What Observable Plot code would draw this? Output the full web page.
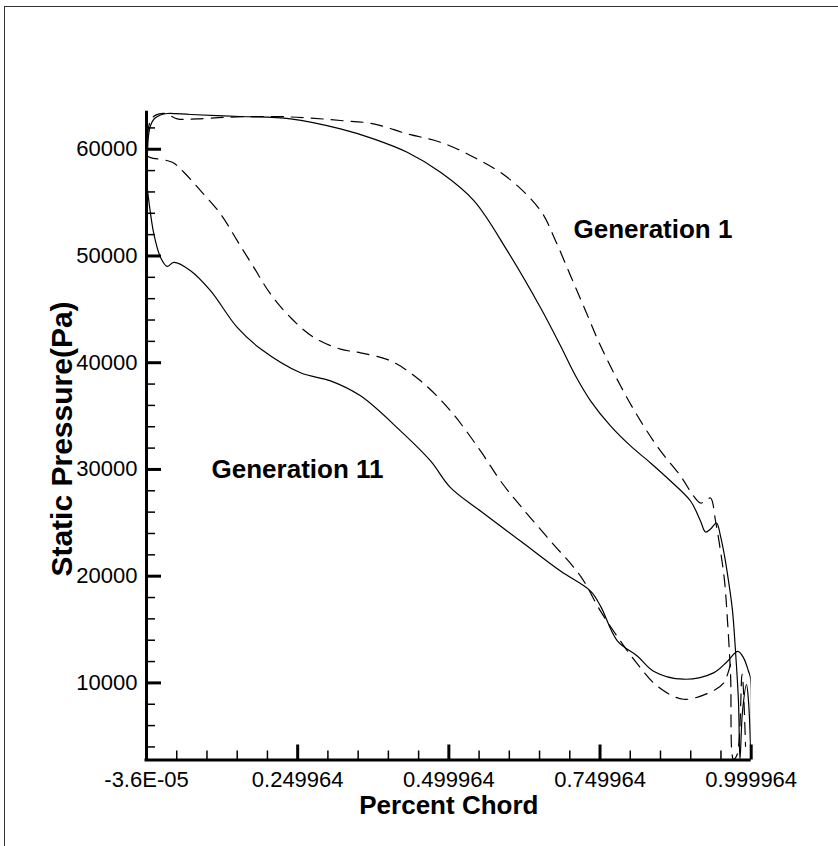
<!DOCTYPE html>
<html><head><meta charset="utf-8">
<script src="https://cdn.jsdelivr.net/npm/d3@7"></script>
<script src="https://cdn.jsdelivr.net/npm/@observablehq/plot@0.6"></script>
<style>
html,body{margin:0;padding:0;background:#fff;}
#wrap{position:relative;width:838px;height:846px;overflow:hidden;background:#fff;}
#frame{position:absolute;left:4px;top:6px;width:2000px;height:2000px;border:1.5px solid #333;box-sizing:border-box;pointer-events:none;}
#chart{position:absolute;left:0;top:0;}
</style></head><body>
<div id="wrap"><div id="chart"></div><div id="frame"></div></div>
<script>
// Generation 11 (solid)
const gen11UpperX = [0, 0.0017, 0.0033, 0.0066, 0.0132, 0.0232, 0.0347, 0.0728, 0.1554, 0.2381, 0.3208, 0.3754, 0.4311, 0.4862, 0.5413, 0.5965, 0.6516, 0.6846, 0.7094, 0.7343, 0.7673, 0.8004, 0.8335, 0.8666, 0.8996, 0.9161, 0.9244, 0.9327, 0.9426, 0.9492, 0.9559, 0.9625, 0.9691, 0.974, 0.9789, 0.9814, 0.9856, 0.9922, 0.9955, 0.9988];
const gen11UpperY = [57064, 59878, 61285, 62223, 62880, 63208, 63349, 63255, 63068, 62852, 61914, 60976, 59719, 57842, 55188, 50497, 45150, 41585, 38771, 36426, 34081, 32205, 30610, 28920, 27045, 25169, 24137, 24418, 24981, 23762, 21886, 19540, 16726, 12974, 8282, 2841, 7344, 9849, 8282, 4061];
const gen11LowerX = [0, 0.0017, 0.0121, 0.0232, 0.0342, 0.0451, 0.0728, 0.1058, 0.15, 0.1885, 0.2547, 0.3043, 0.3539, 0.42, 0.4697, 0.5027, 0.5523, 0.6185, 0.6846, 0.7343, 0.7508, 0.7789, 0.812, 0.8384, 0.888, 0.9377, 0.9608, 0.9778, 0.9873, 0.9955, 0.9988, 0.9995];
const gen11LowerY = [57064, 56126, 52064, 49868, 49024, 49399, 48621, 46745, 43302, 41304, 39053, 38302, 36895, 33612, 30797, 28300, 26107, 23293, 20478, 18602, 17195, 13912, 12505, 11097, 10346, 10937, 12035, 12950, 12350, 11097, 10440, 3873];
// Generation 1 (dashed)
const gen1UpperX = [0, 0.0017, 0.0066, 0.0152, 0.0314, 0.0508, 0.0838, 0.1335, 0.21, 0.2658, 0.3208, 0.3754, 0.4311, 0.4862, 0.5413, 0.5965, 0.6516, 0.6764, 0.7012, 0.726, 0.7508, 0.7839, 0.8169, 0.85, 0.8831, 0.9046, 0.9161, 0.9244, 0.9327, 0.941, 0.9492, 0.9559, 0.9608, 0.9658, 0.9707, 0.9768, 0.9849, 0.9906];
const gen1UpperY = [59409, 61285, 62692, 63200, 63349, 62852, 62852, 63000, 63068, 62945, 62692, 62383, 61445, 60657, 59250, 57373, 54250, 51435, 48152, 44868, 41585, 37833, 34550, 31735, 29390, 27514, 26857, 27045, 27326, 25169, 22355, 19540, 15788, 10815, 2841, 3310, 10815, 4061];
const gen1LowerX = [0, 0.0066, 0.0425, 0.0617, 0.0893, 0.1224, 0.15, 0.1774, 0.2051, 0.2381, 0.2767, 0.3208, 0.3539, 0.4035, 0.4531, 0.5027, 0.5523, 0.5854, 0.6185, 0.6681, 0.7177, 0.7508, 0.7839, 0.812, 0.845, 0.888, 0.9355, 0.9542, 0.9658];
const gen1LowerY = [59409, 59221, 58780, 57842, 56126, 53940, 51435, 48930, 46435, 44240, 42364, 41276, 40929, 40178, 38302, 35488, 31735, 28920, 26576, 23293, 20009, 16726, 13912, 11754, 9689, 8470, 9220, 9971, 11754];

const xDomain = [-0.000036, 0.999964];
const yDomain = [2777, 63565];
const xMajorTicks = [-0.000036, 0.249964, 0.499964, 0.749964, 0.999964];
const xTickLabels = ["-3.6E-05", "0.249964", "0.499964", "0.749964", "0.999964"];
const xMinorTicks = [0.049964, 0.099964, 0.149964, 0.199964, 0.299964, 0.349964, 0.399964, 0.449964, 0.549964, 0.599964, 0.649964, 0.699964, 0.799964, 0.849964, 0.899964, 0.949964];
const yMajorTicks = [10000, 20000, 30000, 40000, 50000, 60000];
const yMinorTicks = [4000, 6000, 8000, 12000, 14000, 16000, 18000, 22000, 24000, 26000, 28000, 32000, 34000, 36000, 38000, 42000, 44000, 46000, 48000, 52000, 54000, 56000, 58000, 62000];

const labels = [
  {x: 0.7061, y: 52464, text: "Generation 1"},
  {x: 0.1075, y: 29952, text: "Generation 11"}
];

function rows(xs, ys, name) { return xs.map((x, i) => ({x, y: ys[i], curve: name})); }
const solidRows = [...rows(gen11UpperX, gen11UpperY, "g11u"), ...rows(gen11LowerX, gen11LowerY, "g11l")];
const dashedRows = [...rows(gen1UpperX, gen1UpperY, "g1u"), ...rows(gen1LowerX, gen1LowerY, "g1l")];

const W = 838, H = 846;
const mL = 146, mR = 87.3, mT = 110.7, mB = 86.5;
const pxX = (xDomain[1] - xDomain[0]) / (W - mL - mR);
const pxY = (yDomain[1] - yDomain[0]) / (H - mT - mB);
const majorLen = 15, minorLen = 9;

const font = "'Liberation Sans', Arial, Helvetica, sans-serif";

const chart = Plot.plot({
  width: W, height: H,
  marginLeft: mL, marginRight: mR, marginTop: mT, marginBottom: mB,
  x: {domain: xDomain, axis: null},
  y: {domain: yDomain, axis: null},
  style: {fontFamily: font, background: "transparent", color: "black"},
  marks: [
    Plot.line(dashedRows, {x: "x", y: "y", z: "curve", stroke: "black", strokeWidth: 1.2, strokeDasharray: "12,8", curve: "catmull-rom", clip: true}),
    Plot.line(solidRows, {x: "x", y: "y", z: "curve", stroke: "black", strokeWidth: 1.2, curve: "catmull-rom", clip: true}),
    // inward ticks
    Plot.ruleX(xMinorTicks, {x: d => d, y1: yDomain[0], y2: yDomain[0] + minorLen * pxY, stroke: "black", strokeWidth: 1.5}),
    Plot.ruleX(xMajorTicks, {x: d => d, y1: yDomain[0], y2: yDomain[0] + majorLen * pxY, stroke: "black", strokeWidth: 3}),
    Plot.ruleY(yMinorTicks, {y: d => d, x1: xDomain[0], x2: xDomain[0] + minorLen * pxX, stroke: "black", strokeWidth: 1.5}),
    Plot.ruleY(yMajorTicks, {y: d => d, x1: xDomain[0], x2: xDomain[0] + majorLen * pxX, stroke: "black", strokeWidth: 3}),
    // axis lines
    Plot.ruleX([xDomain[0]], {stroke: "black", strokeWidth: 3}),
    Plot.ruleY([yDomain[0]], {stroke: "black", strokeWidth: 3, x1: xDomain[0] - 1.5 * pxX, x2: xDomain[1]}),
    // tick labels
    Plot.text(xMajorTicks, {x: d => d, text: (d, i) => xTickLabels[i], frameAnchor: "bottom", textAnchor: "middle", lineAnchor: "top", dy: 11, fontSize: 22, fill: "black"}),
    Plot.text(yMajorTicks, {y: d => d, text: d => String(d), frameAnchor: "left", textAnchor: "end", dx: -9, fontSize: 22, fill: "black"}),
    // axis titles
    Plot.text(["Percent Chord"], {text: d => d, frameAnchor: "bottom", textAnchor: "middle", dy: 46, lineAnchor: "middle", fontSize: 26, fontWeight: "bold", fill: "black"}),
    Plot.text(["Static Pressure(Pa)"], {text: d => d, frameAnchor: "left", textAnchor: "middle", dx: -84.3, dy: 3.4, rotate: -90, lineAnchor: "middle", fontSize: 30, fontWeight: "bold", fill: "black"}),
    // annotations
    Plot.text(labels, {x: "x", y: "y", text: "text", textAnchor: "start", lineAnchor: "middle", fontSize: 26, fontWeight: "bold", fill: "black"})
  ]
});
document.getElementById("chart").appendChild(chart);
</script>
</body></html>
